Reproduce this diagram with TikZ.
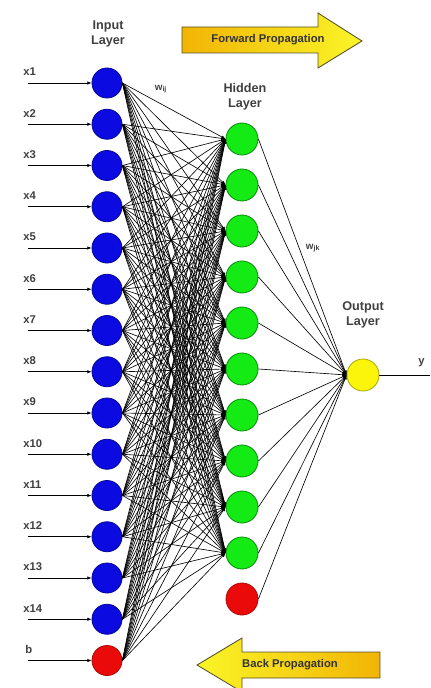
\documentclass[tikz,border=0pt]{standalone}
\usepackage{fontspec}
\setmainfont{Liberation Sans}
\usepackage{xcolor}
\usetikzlibrary{arrows.meta}

\definecolor{inblue}{RGB}{10,10,225}
\definecolor{hidgreen}{RGB}{20,235,20}
\definecolor{outyellow}{RGB}{250,245,10}
\definecolor{biasred}{RGB}{235,10,10}
\definecolor{arrowgold}{RGB}{242,180,5}
\definecolor{arrowyellow}{RGB}{250,245,40}

\tikzset{
  inneuron/.style={circle, fill=inblue, draw=inblue!70!black, line width=0.6pt, minimum size=0.75cm, inner sep=0pt},
  hidneuron/.style={circle, fill=hidgreen, draw=hidgreen!60!black, line width=0.6pt, minimum size=0.8cm, inner sep=0pt},
  outneuron/.style={circle, fill=outyellow, draw=outyellow!70!black, line width=0.6pt, minimum size=0.8cm, inner sep=0pt},
  biasneuron/.style={circle, fill=biasred, draw=biasred!75!black, line width=0.6pt, minimum size=0.8cm, inner sep=0pt},
  weight/.style={line width=0.45pt, -{Latex[length=3pt,width=2.5pt]}},
  feed/.style={line width=0.5pt, -{Latex[length=3pt,width=2.5pt]}},
  layerlabel/.style={font=\bfseries\fontsize{9}{10.5}\selectfont, align=center, text=black!75},
  inlabel/.style={font=\bfseries\fontsize{8}{9}\selectfont, text=black!75, anchor=west, inner sep=0pt},
  bigarrow/.style={draw=black!55!olive, line width=0.6pt, left color=arrowgold, right color=arrowyellow}
}

\begin{document}
\begin{tikzpicture}[x=0.025cm, y=-0.025cm]
  \useasboundingbox (0,0) rectangle (430,688);

  % Input layer (14 inputs + bias)
  \foreach \i in {1,...,14}{
    \node[inneuron] (in\i) at (107,{83+(\i-1)*41.25}) {};
    \coordinate (src\i) at (28,{83+(\i-1)*41.25});
    \node[inlabel] (lab\i) at (23,{72+(\i-1)*41.25}) {x\i};
  }
  \node[biasneuron, minimum size=0.75cm] (in15) at (107,660.5) {};
  \coordinate (src15) at (28,660.5);
  \node[inlabel] (lab15) at (25,649.5) {b};

  % Hidden layer (10 neurons + bias)
  \foreach \j in {1,...,10}{
    \node[hidneuron] (hid\j) at (242,{139+(\j-1)*46}) {};
  }
  \node[biasneuron] (hid11) at (242,599) {};

  % Output layer
  \node[outneuron] (out) at (363,375) {};
  \coordinate (yend) at (430,375);

  % Connections
  \foreach \i in {1,...,15}{
    \draw[feed] (src\i) -- (in\i.west);
    \foreach \j in {1,...,10}
      \draw[weight] (in\i.east) -- (hid\j.west);
  }
  \foreach \j in {1,...,11}
    \draw[weight] (hid\j.east) -- (out.west);
  \draw[line width=0.5pt] (out.east) -- (yend);

  % Labels
  \node[layerlabel] (inputlayer) at (108,34) {Input\\Layer};
  \node[layerlabel] (hiddenlayer) at (245,97) {Hidden\\Layer};
  \node[layerlabel] (outputlayer) at (363,315) {Output\\Layer};
  \node[inlabel] (ylab) at (418,363) {y};
  \node[font=\bfseries\fontsize{7}{8}\selectfont, text=black!75] (wij) at (161,89) {w\textsubscript{ij}};
  \node[font=\bfseries\fontsize{7}{8}\selectfont, text=black!75] (wjk) at (313,248) {w\textsubscript{jk}};

  % Propagation arrows
  \draw[bigarrow] (182,27) -- (318,27) -- (318,13) -- (362,41) -- (318,68) -- (318,53) -- (182,53) -- cycle;
  \node[font=\bfseries\fontsize{8}{9}\selectfont, text=black!80] (fwd) at (268,40) {Forward Propagation};
  \draw[bigarrow, left color=arrowyellow, right color=arrowgold] (380,652) -- (242,652) -- (242,638) -- (197,665) -- (242,692) -- (242,678) -- (380,678) -- cycle;
  \node[font=\bfseries\fontsize{8}{9}\selectfont, text=black!80] (bwd) at (290,665) {Back Propagation};
\end{tikzpicture}
\end{document}
